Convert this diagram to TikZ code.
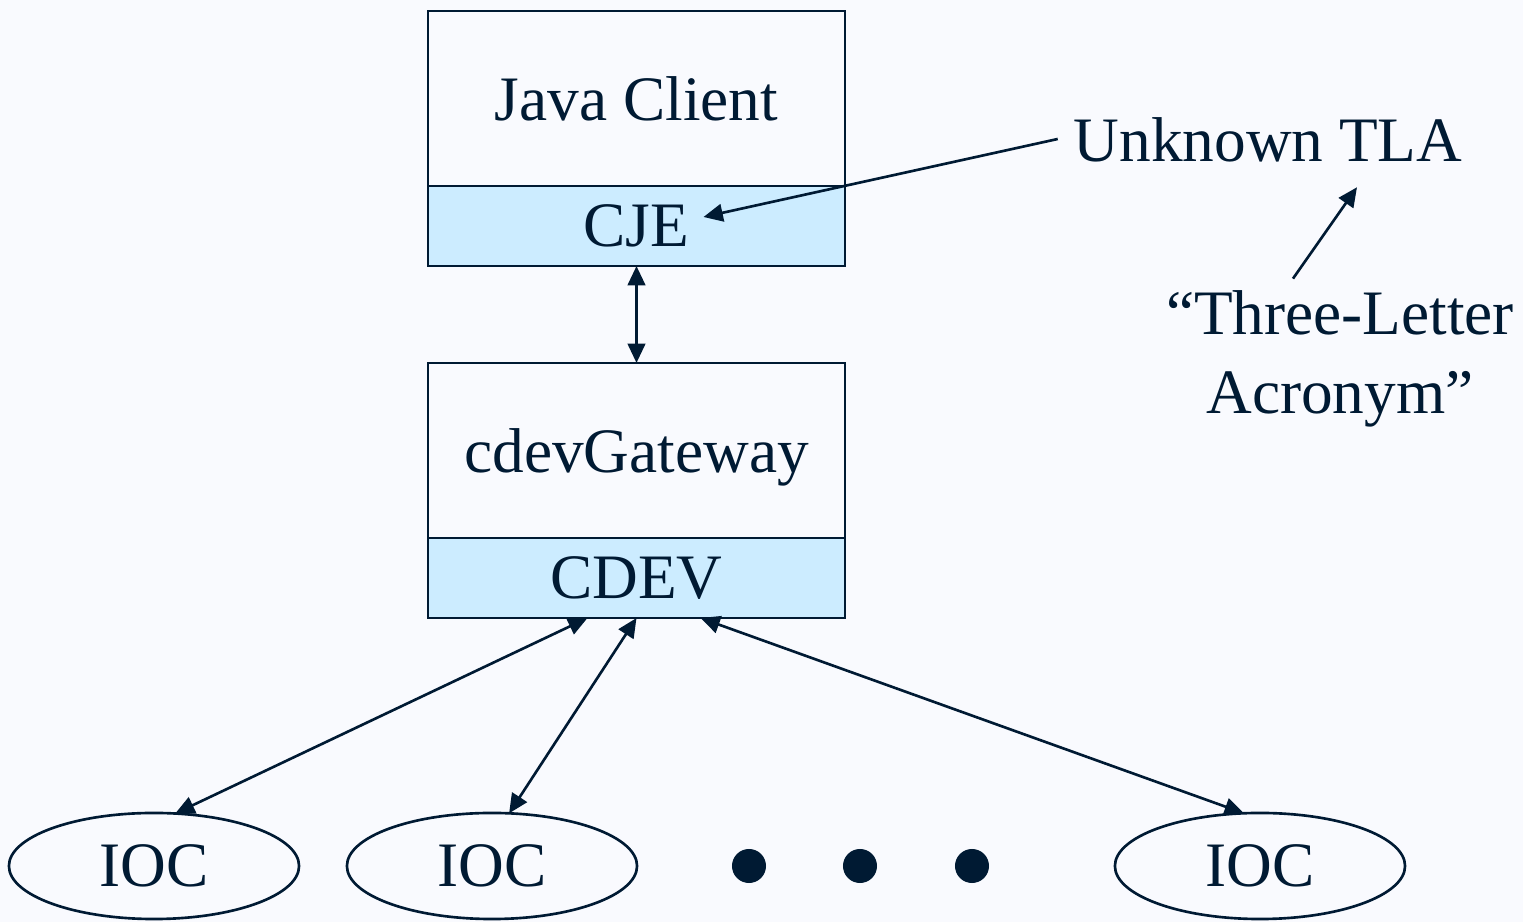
\documentclass[tikz,border=0pt]{standalone}
\usepackage{fontspec}
\setmainfont{Liberation Serif}
\usepackage{tikz}
\usetikzlibrary{shapes.geometric,positioning,arrows.meta}
\definecolor{ink}{RGB}{0,26,51}
\definecolor{layerblue}{RGB}{204,236,255}
\definecolor{paper}{RGB}{249,250,254}
\begin{document}
\begin{tikzpicture}[x=0.01cm, y=-0.01cm, line width=0.75pt, draw=ink, text=ink,
    every node/.style={outer sep=0pt, inner sep=0pt, font=\fontsize{18}{22.5}\selectfont},
    app/.style={rectangle, draw=ink, fill=paper, minimum width=4.17cm, minimum height=1.75cm},
    layer/.style={rectangle, draw=ink, fill=layerblue, minimum width=4.17cm, minimum height=0.8cm},
    ioc/.style={ellipse, draw=ink, minimum width=2.9cm, minimum height=1.06cm},
    link/.style={draw=ink, -{Triangle[length=5.5pt,width=5pt]}},
    both/.style={draw=ink, {Triangle[length=5.5pt,width=5pt]}-{Triangle[length=5.5pt,width=5pt]}}]
        \fill[paper] (0,0) rectangle (1523,922);
        \useasboundingbox (0,0) rectangle (1523,922);
      % client side
        \node (client) [app] at (636.5,98.5) {Java Client};
        \node (cje) [layer] at (636.5,226) {CJE};
      % gateway
        \node (gateway) [app, text depth=0pt] at (636.5,450.5) {cdevGateway};
        \node (cdev) [layer] at (636.5,578) {CDEV};
      % IOCs
        \node (ioc1) [ioc] at (154,866) {IOC};
        \node (ioc2) [ioc] at (492,866) {IOC};
        \node (ioc3) [ioc] at (1260,866) {IOC};
        \foreach \x/\n in {749/1,860/2,972/3}
          \node (dot\n) [circle, fill=ink, minimum size=0.34cm] at (\x,866) {};
      % notes
        \node (tla) at (1268,140) {Unknown TLA};
        \node (acro) [align=center] at (1340,359) {``Three-Letter\\Acronym''};
      % connectors
        \draw [both] (cje.south) -- (gateway.north);
        \draw [both] ([xshift=-0.49cm]cdev.south) -- (ioc1.68);
        \draw [both] (cdev.south) -- (ioc2.72);
        \draw [both] ([xshift=0.64cm]cdev.south) -- (ioc3.107);
        \draw [link] ([xshift=-0.16cm,yshift=0.01cm]tla.west) -- ([shift={(67,-9)}]cje.center);
        \draw [link] ([xshift=-0.47cm,yshift=0.12cm]acro.north) -- ([shift={(89,25)}]tla.south);
    \end{tikzpicture}
\end{document}
